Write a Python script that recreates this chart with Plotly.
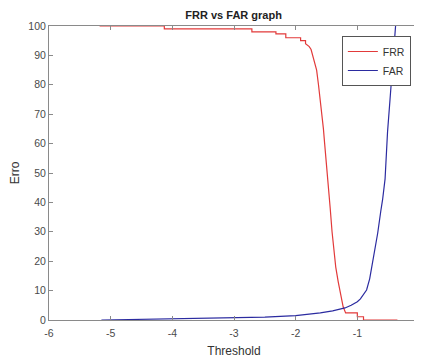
import plotly.graph_objects as go

# FRR (stepped curve)
frr_x = [-5.18, -4.13, -4.13, -2.71, -2.71, -2.32, -2.32, -2.16, -2.16, -1.92, -1.92,
         -1.84, -1.84, -1.78, -1.75, -1.71, -1.66, -1.63, -1.60, -1.58, -1.55, -1.53,
         -1.50, -1.47, -1.44, -1.41, -1.39, -1.35, -1.31, -1.28, -1.25, -1.23, -1.19,
         -1.19, -1.00, -1.00, -0.90, -0.90, -0.35]
frr_y = [100, 100, 99, 99, 98, 98, 97.3, 97.3, 96, 96, 95,
         95, 94, 93, 92, 89, 85, 80, 75, 70, 65, 60,
         53, 47, 38, 30, 25, 18, 13, 10, 7, 4.5, 2.4,
         2.4, 2.4, 1.1, 1.1, 0, 0]

# FAR curve
far_x = [-5.15, -5.0, -4.5, -4.0, -3.5, -3.0, -2.5, -2.0, -1.8, -1.6, -1.4, -1.2,
         -1.1, -1.0, -0.95, -0.9, -0.85, -0.8, -0.77, -0.72, -0.67, -0.62, -0.59,
         -0.55, -0.51, -0.47, -0.43, -0.40, -0.38]
far_y = [0.0, 0.05, 0.12, 0.22, 0.38, 0.6, 0.95, 1.5, 1.9, 2.4, 3.1, 4.1,
         5.0, 6.2, 7.2, 8.5, 10.2, 14, 17.5, 23, 29.5, 37, 41,
         48, 64, 75, 85, 94, 100]

x_ticks = [-6, -5, -4, -3, -2, -1, 0]
y_ticks = [0, 10, 20, 30, 40, 50, 60, 70, 80, 90, 100]

fig = go.Figure()
fig.add_trace(go.Scatter(x=frr_x, y=frr_y, mode="lines", name="FRR",
                         line=dict(color="#e23a3a", width=1.2)))
fig.add_trace(go.Scatter(x=far_x, y=far_y, mode="lines", name="FAR",
                         line=dict(color="#2b2ba0", width=1.2)))

FONT = "Liberation Sans, Arial, sans-serif"
axis_common = dict(showgrid=False, zeroline=False, showline=True, linecolor="#8a8a8a",
                   linewidth=1, mirror="ticks", ticks="inside", ticklen=4,
                   tickcolor="#8a8a8a", automargin=False,
                   tickfont=dict(family=FONT, size=10.5, color="#4a4a4a"))

# page body has an 8px margin, so the figure is 8px smaller than the window
fig.update_layout(
    width=414, height=351,
    margin=dict(l=41, r=3, t=18, b=39, autoexpand=False),
    paper_bgcolor="white", plot_bgcolor="white",
    font=dict(family=FONT, color="#333333"),
    title=dict(text="<b>FRR vs FAR graph</b>", x=0.545, xanchor="center", y=0.98, yanchor="middle",
               font=dict(size=11, color="#222222")),
    xaxis=dict(range=[-6, 0], tickvals=x_ticks, ticktext=[str(v) for v in x_ticks],
               ticklabelstandoff=3,
               title=dict(text="Threshold", font=dict(size=12, color="#333333"), standoff=9),
               **axis_common),
    yaxis=dict(range=[0, 100], tickvals=y_ticks, ticktext=[str(v) for v in y_ticks],
               title=dict(text="Erro", font=dict(size=12, color="#333333"), standoff=8),
               **axis_common),
    legend=dict(x=0.978, y=0.966, xanchor="right", yanchor="top",
                bgcolor="white", bordercolor="#555555", borderwidth=1,
                font=dict(family=FONT, size=10.5, color="#333333"), tracegroupgap=0,
                itemwidth=30),
    showlegend=True,
)

fig.write_html("out.html")
